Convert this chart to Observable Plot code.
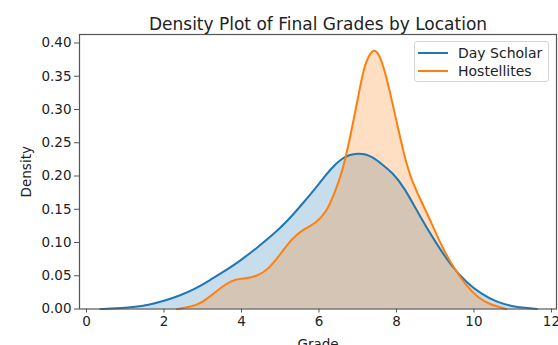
<!DOCTYPE html>
<html>
<head>
<meta charset="utf-8">
<script src="https://cdn.jsdelivr.net/npm/d3@7"></script>
<script src="https://cdn.jsdelivr.net/npm/@observablehq/plot@0.6"></script>
<style>
  html, body { margin: 0; padding: 0; background: #fff; }
  #wrap { position: relative; width: 558px; height: 345px; overflow: hidden; font-family: "DejaVu Sans", sans-serif; }
  #legend {
    position: absolute; left: 414px; top: 41px; width: 135px; height: 41px;
    border: 1px solid #d6d6d6; border-radius: 3px; background: rgba(255,255,255,0.85);
    box-sizing: border-box; font-size: 14px; color: #222;
  }
  .row { position: absolute; left: 0; height: 18px; display: flex; align-items: center; }
  .sw { width: 30px; height: 2px; margin-left: 3px; margin-right: 10px; }
</style>
</head>
<body>
<div id="wrap"></div>
<script>
// Kernel density curves of final grades, one per student location
const series = ["Day Scholar", "Hostellites"];
const colors = ["#1f77b4", "#ff7f0e"];

const dayGrade = [0.36, 0.8, 1.2, 1.6, 2.0, 2.4, 2.8, 3.2, 3.6, 4.0, 4.4, 4.8, 5.2, 5.6, 6.0, 6.3, 6.6, 6.8, 7.0, 7.2, 7.4, 7.6, 7.9, 8.2, 8.6, 9.0, 9.4, 9.8, 10.2, 10.6, 11.0, 11.3, 11.62];
const dayDensity = [0.000, 0.001, 0.003, 0.006, 0.012, 0.020, 0.030, 0.044, 0.058, 0.074, 0.092, 0.111, 0.133, 0.160, 0.188, 0.211, 0.227, 0.232, 0.234, 0.233, 0.228, 0.219, 0.205, 0.183, 0.140, 0.101, 0.066, 0.040, 0.022, 0.010, 0.004, 0.002, 0.000];

const hostelGrade = [2.34, 2.7, 3.0, 3.3, 3.6, 3.85, 4.1, 4.4, 4.7, 5.0, 5.3, 5.6, 5.9, 6.2, 6.4, 6.6, 6.8, 7.0, 7.15, 7.3, 7.42, 7.55, 7.7, 7.85, 8.0, 8.2, 8.4, 8.6, 8.9, 9.2, 9.5, 9.8, 10.1, 10.4, 10.83];
const hostelDensity = [0.000, 0.003, 0.010, 0.024, 0.038, 0.045, 0.046, 0.049, 0.060, 0.082, 0.106, 0.120, 0.128, 0.146, 0.174, 0.205, 0.257, 0.315, 0.362, 0.383, 0.391, 0.384, 0.358, 0.322, 0.283, 0.230, 0.192, 0.167, 0.130, 0.090, 0.060, 0.035, 0.017, 0.007, 0.000];

const xTicks = [0, 2, 4, 6, 8, 10, 12];
const yTicks = [0, 0.05, 0.10, 0.15, 0.20, 0.25, 0.30, 0.35, 0.40];

const rows = [
  ...dayGrade.map((g, i) => ({loc: series[0], grade: g, density: dayDensity[i]})),
  ...hostelGrade.map((g, i) => ({loc: series[1], grade: g, density: hostelDensity[i]}))
];
const bySeries = s => rows.filter(d => d.loc === s);

const font = "DejaVu Sans, sans-serif";
// shaded areas first, outlines on top of both
const fills = series.map((s, i) =>
  Plot.areaY(bySeries(s), {x: "grade", y: "density", fill: colors[i], fillOpacity: 0.25, curve: "basis"}));
const outlines = series.map((s, i) =>
  Plot.line(bySeries(s), {x: "grade", y: "density", stroke: colors[i], strokeWidth: 2, curve: "basis"}));

const chart = Plot.plot({
  width: 558,
  height: 345,
  marginLeft: 79,
  marginRight: 2,
  marginTop: 34,
  marginBottom: 36.5,
  style: {fontFamily: font, background: "#fff", color: "#222"},
  x: {domain: [-0.18, 12.13]},
  y: {domain: [0, 0.4128]},
  marks: [
    ...fills,
    ...outlines,
    Plot.frame({stroke: "#555", strokeWidth: 1.2}),
    Plot.axisX({ticks: xTicks, tickSize: 4, tickPadding: 3, fontSize: 13.5, label: "Grade", labelAnchor: "center", labelArrow: "none", labelOffset: 40, stroke: "#555"}),
    Plot.axisY({ticks: yTicks, tickSize: 5, tickPadding: 3, fontSize: 13.5, tickFormat: d3.format(".2f"), label: "Density", labelAnchor: "center", labelArrow: "none", labelOffset: 58, stroke: "#555"}),
    Plot.text(["Density Plot of Final Grades by Location"], {frameAnchor: "top", lineAnchor: "bottom", dy: -5, fontSize: 17, fill: "#222"})
  ]
});

const wrap = document.getElementById("wrap");
wrap.appendChild(chart);

// Legend box with line swatches
const legend = document.createElement("div");
legend.id = "legend";
series.forEach((s, i) => {
  const row = document.createElement("div");
  row.className = "row";
  row.style.top = (2 + i * 18) + "px";
  const sw = document.createElement("span");
  sw.className = "sw";
  sw.style.background = colors[i];
  const label = document.createElement("span");
  label.textContent = s;
  row.appendChild(sw);
  row.appendChild(label);
  legend.appendChild(row);
});
wrap.appendChild(legend);
</script>
</body>
</html>
